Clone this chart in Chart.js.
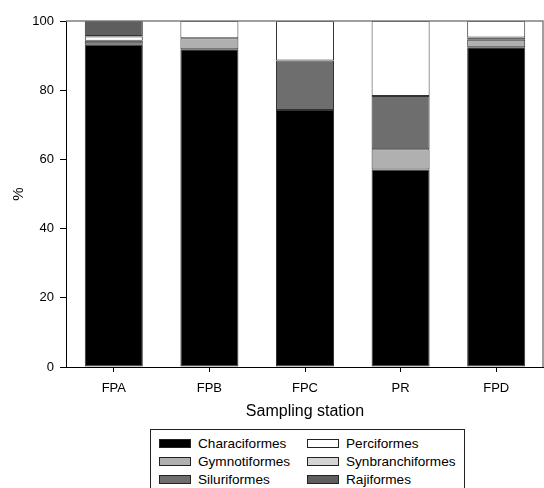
<!DOCTYPE html>
<html>
<head>
<meta charset="utf-8">
<script src="https://cdn.jsdelivr.net/npm/chart.js@4.4.1/dist/chart.umd.min.js"></script>
<style>
  body { margin: 0; background: #fff; font-family: "Liberation Sans", Arial, sans-serif; }
  #wrap { position: relative; width: 544px; height: 488px; overflow: hidden; }
  #chart { position: absolute; left: 0; top: 0; }
  #legend {
    position: absolute; left: 150px; top: 429px; width: 315px; height: 70px;
    border: 1px solid #222; box-sizing: border-box;
    display: grid; grid-template-columns: 148px 160px; grid-auto-flow: column;
    grid-template-rows: repeat(3, 18.2px); padding: 4px 0 0 8px;
    font-size: 13.6px; color: #000;
  }
  .item { display: flex; align-items: center; }
  .sw { width: 30px; height: 7px; border: 1px solid #222; margin-right: 7px; }
</style>
</head>
<body>
<div id="wrap">
  <canvas id="chart" width="544" height="425"></canvas>
  <div id="legend"></div>
</div>
<script>
// Stationen und Anteile (%) je Ordnung
const stations = ["FPA", "FPB", "FPC", "PR", "FPD"];
const characiformes = [93.1, 91.8, 74.3, 57.1, 92.4];
const gymnotiformes = [0, 3.2, 0, 5.8, 2.2];
const siluriformes = [1.2, 0, 14.3, 15.4, 0.6];
const perciformes = [1.2, 5.0, 11.4, 21.7, 4.8];
const synbranchiformes = [0.2, 0, 0, 0, 0];
const rajiformes = [4.3, 0, 0, 0, 0];
const yTicks = [0, 20, 40, 60, 80, 100];

const series = [
  { label: "Characiformes", data: characiformes, color: "#000000" },
  { label: "Gymnotiformes", data: gymnotiformes, color: "#b0b0b0" },
  { label: "Siluriformes", data: siluriformes, color: "#6e6e6e" },
  { label: "Perciformes", data: perciformes, color: "#ffffff" },
  { label: "Synbranchiformes", data: synbranchiformes, color: "#d4d4d4" },
  { label: "Rajiformes", data: rajiformes, color: "#5e5e5e" }
];

// Rahmen oben und rechts
const frame = {
  id: "frame",
  afterDraw(chart) {
    const { ctx, chartArea: a } = chart;
    ctx.save();
    ctx.strokeStyle = "#808080";
    ctx.lineWidth = 1.5;
    ctx.beginPath();
    ctx.moveTo(a.left, a.top);
    ctx.lineTo(a.right - 1, a.top);
    ctx.lineTo(a.right - 1, a.bottom);
    ctx.stroke();
    ctx.restore();
  }
};

Chart.defaults.font.family = '"Liberation Sans", Arial, sans-serif';
Chart.defaults.color = "#000";

new Chart(document.getElementById("chart"), {
  type: "bar",
  data: {
    labels: stations,
    datasets: series.map(s => ({
      label: s.label,
      data: s.data,
      backgroundColor: s.color,
      borderColor: "#333",
      borderWidth: 1,
      borderSkipped: false,
      categoryPercentage: 1,
      barPercentage: 0.607
    }))
  },
  options: {
    responsive: false,
    animation: false,
    layout: { padding: { top: 21, right: 0, left: 0, bottom: 0 } },
    plugins: { legend: { display: false }, tooltip: { enabled: false } },
    scales: {
      x: {
        stacked: true,
        afterFit: s => { s.height = 58; },
        grid: { display: true, drawOnChartArea: false, offset: false, tickLength: 5, color: "#000" },
        border: { color: "#000", width: 1 },
        ticks: { font: { size: 13 }, padding: 9 },
        title: { display: true, text: "Sampling station", font: { size: 16 }, padding: { top: 2 } }
      },
      y: {
        stacked: true,
        min: 0,
        max: 100,
        afterFit: s => { s.width = 66; },
        afterBuildTicks: s => { s.ticks = yTicks.map(v => ({ value: v })); },
        grid: { display: true, drawOnChartArea: false, tickLength: 6, color: "#000" },
        border: { color: "#000", width: 1 },
        ticks: { font: { size: 13 }, padding: 6 },
        title: { display: true, text: "%", font: { size: 15 }, padding: { top: 10, bottom: 0 } }
      }
    }
  },
  plugins: [frame]
});

// Legende (zweispaltig)
const legend = document.getElementById("legend");
series.forEach(s => {
  const item = document.createElement("div");
  item.className = "item";
  item.innerHTML = `<span class="sw" style="background:${s.color}"></span><span>${s.label}</span>`;
  legend.appendChild(item);
});
</script>
</body>
</html>
